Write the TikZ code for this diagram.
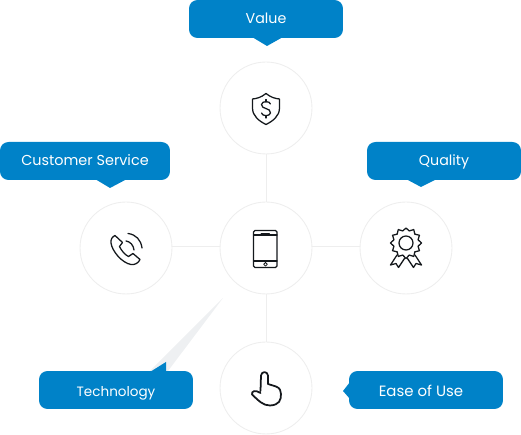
\documentclass[tikz,border=0pt]{standalone}
\usepackage{fontspec}
\setmainfont{Poppins}
\usetikzlibrary{positioning}
\definecolor{bannerBlue}{HTML}{0082C8}
\definecolor{ringGrey}{HTML}{EEEEEE}
\definecolor{wedgeGrey}{HTML}{EEF0F2}
\definecolor{iconInk}{HTML}{14181C}
\tikzset{
    ring/.style={circle, draw=ringGrey, line width=0.5pt, fill=white, minimum size=1.84cm, inner sep=0pt},
    spoke/.style={draw=ringGrey, line width=0.5pt},
    banner/.style={fill=bannerBlue, text=white, rounded corners=0.17cm, minimum width=3.08cm, minimum height=0.76cm, inner sep=0pt, font=\fontsize{8.1}{9}\selectfont},
    upper/.style={text height=0.24cm, text depth=0.04cm},
    lower/.style={text height=0.28cm, text depth=0cm},
    pointer/.style={fill=bannerBlue},
    icon/.style={draw=iconInk, line width=0.72pt, line join=round, line cap=round},
}
\begin{document}
\begin{tikzpicture}[x=0.02cm, y=-0.02cm]
        \useasboundingbox (0,0) rectangle (521,435);

        \fill[wedgeGrey] (223,298) -- (150,371) -- (168,371) -- cycle;

        \node[ring] (hub) at (266,248) {};
        \node[ring] (valuering) at (266,108) {};
        \node[ring] (servicering) at (126,248) {};
        \node[ring] (qualityring) at (406,248) {};
        \node[ring] (usering) at (266,388) {};

        \draw[spoke] (hub) -- (valuering);
        \draw[spoke] ([yshift=0.04cm]hub.west) -- ([yshift=0.04cm]servicering.east);
        \draw[spoke] ([yshift=0.04cm]hub.east) -- ([yshift=0.04cm]qualityring.west);
        \draw[spoke] (hub) -- (usering);

        % banners and their pointers
        \fill[pointer] (252,37) -- (267,46) -- (283,37) -- cycle;
        \node[banner, upper] (value) at (266,19) {Value};
        \fill[pointer] (95,179) -- (110,188) -- (127,179) -- cycle;
        \node[banner, upper, minimum width=3.4cm, font=\fontsize{8.2}{9}\selectfont] (service) at (85,161) {Customer Service};
        \fill[pointer] (406,179) -- (421,187) -- (437,179) -- cycle;
        \node[banner, upper] (quality) at (444,161) {Quality};
        \fill[pointer] (150,372) -- (166,362) -- (166,372) -- cycle;
        \node[banner, lower, font=\fontsize{7.7}{9}\selectfont] (technology) at (116,390) {Technology};
        \fill[pointer] (350,382) -- (343,391) -- (350,399) -- cycle;
        \node[banner, lower, font=\fontsize{8.5}{9}\selectfont] (ease) at (426,390) {\hspace{-0.2cm}Ease of Use};

        % shield
        \draw[icon] (266,93.5) .. controls (261,97.5) and (257,98.5) .. (252.5,99)
            -- (252.5,108) .. controls (252.5,116) and (259,121) .. (266,124.5)
            .. controls (273,121) and (279.5,116) .. (279.5,108)
            -- (279.5,99) .. controls (275,98.5) and (271,97.5) .. (266,93.5) -- cycle;
        \draw[icon] (270.5,104) .. controls (270,101) and (262,100.5) .. (261.5,104.5)
            .. controls (261,109.5) and (271,107.5) .. (270.5,113)
            .. controls (270,116.5) and (262,116.5) .. (261.5,113);
        \draw[icon] (266,99.5) -- (266,102) (266,115.5) -- (266,118);

        % mobile
        \draw[icon, rounded corners=0.03cm] (253.5,230.5) rectangle (277,267.5);
        \draw[icon] (253.5,235) -- (277,235) (253.5,261) -- (277,261);
        \draw[icon, line width=0.5pt] (261,233) -- (269.5,233);
        \draw[icon, line width=0.45pt] (265.5,264.3) circle (1.8);

        % handset
        \draw[icon] (115,235.5) .. controls (112,237) and (110.5,239.5) .. (111,243)
            .. controls (112,251) and (122,263) .. (131,264.5)
            .. controls (135,265) and (138.5,263) .. (140,259.5)
            -- (133,253.5) -- (128.5,256.5)
            .. controls (125,255) and (121,250) .. (119.5,246.5)
            -- (122.5,242.5) -- cycle;
        \draw[icon] (128,233.5) .. controls (136,234.5) and (141,240) .. (142,248);
        \draw[icon] (126,241) .. controls (130,241.5) and (133.5,245) .. (134,250);

        % award
        \draw[icon] \foreach \i in {0,...,23} {
            \ifnum\i=0 (406,228) \else -- ({406+(15.5-3*mod(\i,2))*sin(\i*15)},{243-(15.5-3*mod(\i,2))*cos(\i*15)}) \fi
        } -- cycle;
        \draw[icon] (406,243) circle (7);
        \draw[icon] (397,255) -- (390.5,265) -- (396,263.5) -- (398.5,267.5) -- (404.5,258.5);
        \draw[icon] (415,255) -- (421.5,265) -- (416,263.5) -- (413.5,267.5) -- (407.5,258.5);

        % hand
        \draw[icon, line width=1pt] (260.5,391) -- (261,375.5)
            .. controls (261.5,371) and (267.5,371) .. (268,375.5)
            -- (268,384) -- (276,386.5)
            .. controls (280,388) and (281,391) .. (281,394)
            .. controls (281,400) and (279.5,405) .. (270,405.5)
            .. controls (263,405.5) and (259,401) .. (252,394.5)
            .. controls (251.5,391) and (255,389.5) .. (260.5,393);
\end{tikzpicture}
\end{document}
